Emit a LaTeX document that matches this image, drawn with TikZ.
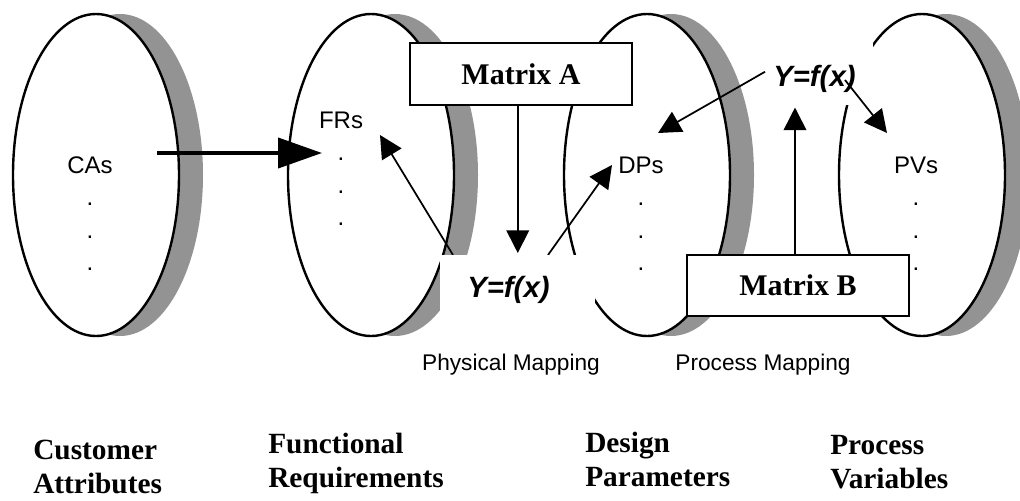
\documentclass[tikz,border=0pt]{standalone}
\usepackage{fontspec}
\setmainfont{Liberation Serif}
\setsansfont{Liberation Sans}
\usetikzlibrary{shapes.geometric,shadows,arrows.meta,calc}
\definecolor{rim}{RGB}{147,147,147}
\begin{document}
\begin{tikzpicture}[x=0.75pt,y=-0.75pt,
  disc/.style={ellipse, draw, line width=1.8pt, fill=white,
    minimum width=124.5pt, minimum height=241.5pt, inner sep=0pt,
    drop shadow={shadow xshift=18pt, shadow yshift=0pt, opacity=1, fill=rim}},
  lab/.style={font=\sffamily\fontsize{18}{24.4}\selectfont, align=center,
    inner sep=0pt, anchor=base},
  fxtext/.style={font=\sffamily\bfseries\itshape\fontsize{22}{26}\selectfont,
    inner sep=0pt, anchor=base west},
  mbox/.style={draw, line width=1.4pt, fill=white, inner sep=0pt,
    minimum width=166.5pt, minimum height=46.5pt,
    font=\bfseries\fontsize{22.5}{27}\selectfont},
  cover/.style={fill=white, inner sep=0pt, anchor=north west},
  link/.style={line width=1.3pt, -{Triangle[length=17pt,width=17pt]}},
  bigarrow/.style={line width=3pt, -{Triangle[length=33pt,width=22.5pt]}},
  caption/.style={font=\sffamily\fontsize{17}{20}\selectfont, anchor=base, inner sep=0pt},
  heading/.style={font=\bfseries\fontsize{22}{25.5}\selectfont, align=left,
    anchor=base west, inner sep=0pt}
]
\useasboundingbox (0,0) rectangle (1020,500);
\clip (0,0) rectangle (1020,500);

% the four domains
\node[disc] (E1) at (96,175) {};
\node[disc] (E2) at (371,175) {};
\node[disc] (E3) at (647,175) {};
\node[disc] (E4) at (922,175) {};

% customer attributes feed the functional requirements
\draw[bigarrow] ($(E1.center)+(61,-22)$) -- ($(E2.center)+(-49,-22)$);

% domain contents (anchored on the last line)
\node[lab] (CA) at (90,270.6) {CAs\\.\\.\\.};
\node[lab] (FR) at (341,225.6) {FRs\\.\\.\\.};
\node[lab] (DP) at (641,270.6) {DPs\\.\\.\\.};
\node[lab] (PV) at (916,270.6) {PVs\\.\\.\\.};

% physical mapping: links leaving the lower function, masked at its top edge
\coordinate (lowNW) at (440,255);
\coordinate (upNW) at (765,38);
\draw[link] ($(lowNW)+(13,0)$) -- ($(E2.center)+(9,-40)$);
\draw[link] ($(lowNW)+(108,0)$) -- ($(E3.center)+(-35,-10)$);
\node[cover, minimum width=116.25pt, minimum height=71.25pt] (coverLow) at (lowNW) {};

% design matrices and the upper function
\node[mbox] (MatA) at (521,74) {Matrix A};
\node[mbox, minimum height=45.75pt] (MatB) at (798,285.5) {Matrix B};
\node[cover, minimum width=81pt, minimum height=50.25pt] (coverUp) at (upNW) {};

\node[fxtext] (fxLow) at (467,297) {Y=f(x)};
\node[fxtext] (fxUp) at (773,86) {Y=f(x)};

\draw[link] (MatA.south -| coverLow.north) -- ($(coverLow.north)+(0,-2)$);
\draw[link] ($(MatB.north)+(-3,0)$) -- ($(MatB.north |- coverUp.south)+(-3,2)$);
\draw[link] (coverUp.west) -- ($(E3.center)+(11,-42)$);
\draw[link] ($(fxUp.base west)+(72,-6)$) -- ($(E4.center)+(-35,-42)$);

% mapping captions
\node[caption] (pm) at (511,370) {Physical Mapping};
\node[caption] (prm) at (763,370) {Process Mapping};

% domain names (anchored on the second line)
\node[heading] (hCA) at (33,493) {Customer\\Attributes};
\node[heading] (hFR) at (268,487) {Functional\\Requirements};
\node[heading] (hDP) at (585,486) {Design\\Parameters};
\node[heading] (hPV) at (830,488) {Process\\Variables};
\end{tikzpicture}
\end{document}
